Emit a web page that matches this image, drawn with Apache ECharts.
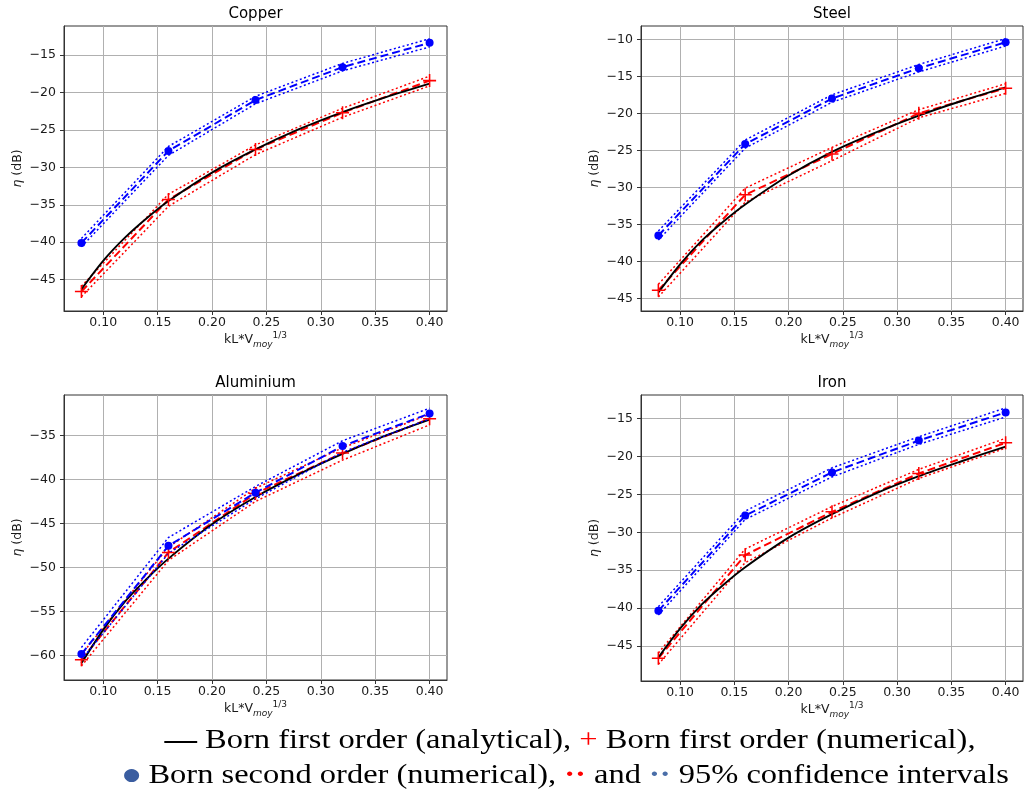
<!DOCTYPE html>
<html>
<head>
<meta charset="utf-8">
<script src="https://cdn.jsdelivr.net/npm/echarts@6/dist/echarts.min.js"></script>
<style>
html,body{margin:0;padding:0;background:#fff;}
#chart{width:1024px;height:794px;}
</style>
</head>
<body>
<div id="chart"></div>
<script>
// ---------- data ----------
const titles = ['Copper', 'Steel', 'Aluminium', 'Iron'];
const xNum = [0.08, 0.16, 0.24, 0.32, 0.40];
const xAna = [0.08, 0.10, 0.12, 0.14, 0.16, 0.20, 0.24, 0.28, 0.32, 0.36, 0.40];
const xTicks = [0.10, 0.15, 0.20, 0.25, 0.30, 0.35, 0.40];

// Copper
const copperAnalytical = [-46.3, -42.5, -39.4, -36.8, -34.5, -30.7, -27.6, -24.9, -22.6, -20.6, -18.8];
const copperFirst      = [-46.6, -34.3, -27.6, -22.7, -18.4];
const copperFirstUp    = [-45.9, -33.6, -27.0, -22.1, -17.8];
const copperFirstLo    = [-47.3, -35.2, -28.3, -23.3, -19.1];
const copperSecond     = [-40.1, -27.8, -21.0, -16.6, -13.35];
const copperSecondUp   = [-39.5, -27.2, -20.5, -16.1, -12.8];
const copperSecondLo   = [-40.6, -28.4, -21.5, -17.1, -13.9];
const copperYTicks     = [-45, -40, -35, -30, -25, -20, -15];

// Steel
const steelAnalytical = [-44.2, -40.4, -37.2, -34.6, -32.3, -28.4, -25.2, -22.6, -20.3, -18.3, -16.5];
const steelFirst      = [-43.9, -31.0, -25.5, -20.0, -16.6];
const steelFirstUp    = [-43.1, -30.1, -24.6, -19.5, -16.0];
const steelFirstLo    = [-44.8, -32.0, -26.4, -20.6, -17.3];
const steelSecond     = [-36.5, -24.15, -18.0, -13.9, -10.4];
const steelSecondUp   = [-35.9, -23.6, -17.5, -13.4, -9.9];
const steelSecondLo   = [-37.1, -24.7, -18.5, -14.4, -10.9];
const steelYTicks     = [-45, -40, -35, -30, -25, -20, -15, -10];

// Aluminium
const aluAnalytical = [-60.9, -57.1, -53.9, -51.3, -49.0, -45.1, -42.0, -39.4, -37.1, -35.0, -33.2];
const aluFirst      = [-60.5, -48.3, -41.6, -37.0, -33.1];
const aluFirstUp    = [-59.9, -47.7, -41.0, -36.4, -32.6];
const aluFirstLo    = [-61.2, -49.2, -42.5, -37.8, -33.8];
const aluSecond     = [-59.85, -47.55, -41.5, -36.2, -32.5];
const aluSecondUp   = [-59.1, -46.6, -40.8, -35.6, -31.9];
const aluSecondLo   = [-60.5, -48.4, -42.2, -36.9, -33.1];
const aluYTicks     = [-60, -55, -50, -45, -40, -35];

// Iron
const ironAnalytical = [-46.5, -42.7, -39.5, -36.9, -34.6, -30.7, -27.6, -24.9, -22.6, -20.6, -18.7];
const ironFirst      = [-46.6, -33.0, -27.3, -22.25, -18.2];
const ironFirstUp    = [-45.9, -32.2, -26.6, -21.7, -17.6];
const ironFirstLo    = [-47.4, -34.0, -28.1, -22.9, -18.9];
const ironSecond     = [-40.35, -27.8, -22.1, -17.9, -14.2];
const ironSecondUp   = [-39.8, -27.2, -21.5, -17.4, -13.6];
const ironSecondLo   = [-40.9, -28.3, -22.7, -18.4, -14.8];
const ironYTicks     = [-45, -40, -35, -30, -25, -20, -15];

const panels = [
  {ana: copperAnalytical, f: copperFirst, fu: copperFirstUp, fl: copperFirstLo, s: copperSecond, su: copperSecondUp, sl: copperSecondLo, yt: copperYTicks},
  {ana: steelAnalytical, f: steelFirst, fu: steelFirstUp, fl: steelFirstLo, s: steelSecond, su: steelSecondUp, sl: steelSecondLo, yt: steelYTicks},
  {ana: aluAnalytical, f: aluFirst, fu: aluFirstUp, fl: aluFirstLo, s: aluSecond, su: aluSecondUp, sl: aluSecondLo, yt: aluYTicks},
  {ana: ironAnalytical, f: ironFirst, fu: ironFirstUp, fl: ironFirstLo, s: ironSecond, su: ironSecondUp, sl: ironSecondLo, yt: ironYTicks}
];

// ---------- layout / style ----------
const layout = [
  {left: 64, top: 26, width: 383, height: 285, ymin: -49.2, ymax: -11.1},
  {left: 641, top: 26, width: 382, height: 285, ymin: -46.7, ymax: -8.2},
  {left: 64, top: 395, width: 383, height: 285, ymin: -62.8, ymax: -30.4},
  {left: 641, top: 395, width: 382, height: 286, ymin: -49.6, ymax: -11.9}
];
const FONT = 'DejaVu Sans';
const SERIF = 'Liberation Serif';
const TXT = '#1a1a1a';
const RED = '#ff0000', BLUE = '#0000ff';
const FS = 12.5;
const plusPath = 'path://M0,4.4H10V5.6H0Z M4.4,0H5.6V10H4.4Z';
const minus = v => (v < 0 ? '\u2212' : '') + Math.abs(v);
const pairs = (xs, ys) => xs.map((x, i) => [x, ys[i]]);

const grids = [], xAxes = [], yAxes = [], series = [], graphics = [];

layout.forEach((L, i) => {
  grids.push({left: L.left, top: L.top, width: L.width, height: L.height, show: true, borderColor: '#333', borderWidth: 1, backgroundColor: 'transparent'});
  xAxes.push({
    type: 'value', gridIndex: i, min: 0.064, max: 0.416,
    axisLine: {show: true, onZero: false, lineStyle: {color: '#333', width: 1}},
    axisTick: {show: true, length: 4, lineStyle: {color: '#333'}, customValues: xTicks},
    axisLabel: {customValues: xTicks, formatter: v => v.toFixed(2), fontFamily: FONT, fontSize: FS, color: TXT, margin: 5},
    splitLine: {show: true, lineStyle: {color: '#b0b0b0', width: 1}},
    name: '{m|kL*V}{s|moy}{p|1/3}', nameLocation: 'middle', nameGap: 20,
    nameTextStyle: {rich: {
      m: {fontFamily: FONT, fontSize: FS, color: TXT, lineHeight: 18},
      s: {fontFamily: FONT, fontSize: 9, fontStyle: 'italic', color: TXT, lineHeight: 9, verticalAlign: 'bottom'},
      p: {fontFamily: FONT, fontSize: 9, color: TXT, lineHeight: 9, verticalAlign: 'top'}
    }}
  });
  const yt = panels[i].yt;
  yAxes.push({
    type: 'value', gridIndex: i, min: L.ymin, max: L.ymax,
    axisLine: {show: true, onZero: false, lineStyle: {color: '#333', width: 1}},
    axisTick: {show: true, length: 4, lineStyle: {color: '#333'}, customValues: yt},
    axisLabel: {customValues: yt, formatter: minus, fontFamily: FONT, fontSize: FS, color: TXT, margin: 8},
    splitLine: {show: true, lineStyle: {color: '#b0b0b0', width: 1}},
    name: '{i|\u03b7} (dB)', nameLocation: 'middle', nameGap: 40, nameRotate: 90,
    nameTextStyle: {fontFamily: FONT, fontSize: FS, color: TXT, rich: {i: {fontFamily: FONT, fontSize: FS, fontStyle: 'italic', color: TXT}}}
  });
  graphics.push({type: 'text', x: L.left + L.width / 2, y: L.top - 12,
    style: {text: titles[i], fontFamily: FONT, fontSize: 15, fill: '#000', align: 'center', verticalAlign: 'middle'}});

  const P = panels[i];
  const base = {type: 'line', xAxisIndex: i, yAxisIndex: i, animation: false, silent: true};
  const dotted = c => ({lineStyle: {color: c, width: 1.5, type: [2, 2.5]}});
  series.push(Object.assign({}, base, {data: pairs(xNum, P.fu), showSymbol: false, symbol: 'none'}, dotted(RED)));
  series.push(Object.assign({}, base, {data: pairs(xNum, P.fl), showSymbol: false, symbol: 'none'}, dotted(RED)));
  series.push(Object.assign({}, base, {data: pairs(xNum, P.f), symbol: plusPath, symbolSize: 13,
    itemStyle: {color: RED}, lineStyle: {color: RED, width: 2, type: [8, 4]}}));
  series.push(Object.assign({}, base, {data: pairs(xAna, P.ana), symbol: 'none', smooth: 0.3,
    lineStyle: {color: '#000', width: 1.9}}));
  series.push(Object.assign({}, base, {data: pairs(xNum, P.su), showSymbol: false, symbol: 'none'}, dotted(BLUE)));
  series.push(Object.assign({}, base, {data: pairs(xNum, P.sl), showSymbol: false, symbol: 'none'}, dotted(BLUE)));
  series.push(Object.assign({}, base, {data: pairs(xNum, P.s), symbol: 'circle', symbolSize: 8,
    itemStyle: {color: BLUE, borderWidth: 0}, lineStyle: {color: BLUE, width: 2, type: [8, 4]}}));
});

// legend text lines
graphics.push({type: 'text', x: 570, y: 741, scaleX: 1.16,
  style: {text: '{k|\u2014} Born first order (analytical), {r|+} Born first order (numerical),',
    fontFamily: SERIF, fontSize: 28, fill: '#000', align: 'center', verticalAlign: 'middle',
    rich: {k: {fill: '#000', fontFamily: SERIF, fontSize: 28, fontWeight: 'bold'}, r: {fill: RED, fontFamily: SERIF, fontSize: 28}}}});
graphics.push({type: 'text', x: 566, y: 776, scaleX: 1.16,
  style: {text: '{b|\u25cf} Born second order (numerical), {r|\u00b7\u00b7} and {g|\u00b7\u00b7} 95% confidence intervals',
    fontFamily: SERIF, fontSize: 28, fill: '#000', align: 'center', verticalAlign: 'middle',
    rich: {b: {fill: '#3a5da0', fontFamily: FONT, fontSize: 17},
           r: {fill: RED, fontFamily: SERIF, fontSize: 28, fontWeight: 'bold'},
           g: {fill: '#4a6ea8', fontFamily: SERIF, fontSize: 28, fontWeight: 'bold'}}}});

const chart = echarts.init(document.getElementById('chart'), null, {renderer: 'canvas'});
chart.setOption({
  animation: false,
  backgroundColor: '#fff',
  grid: grids, xAxis: xAxes, yAxis: yAxes, series: series, graphic: graphics
});
</script>
</body>
</html>
